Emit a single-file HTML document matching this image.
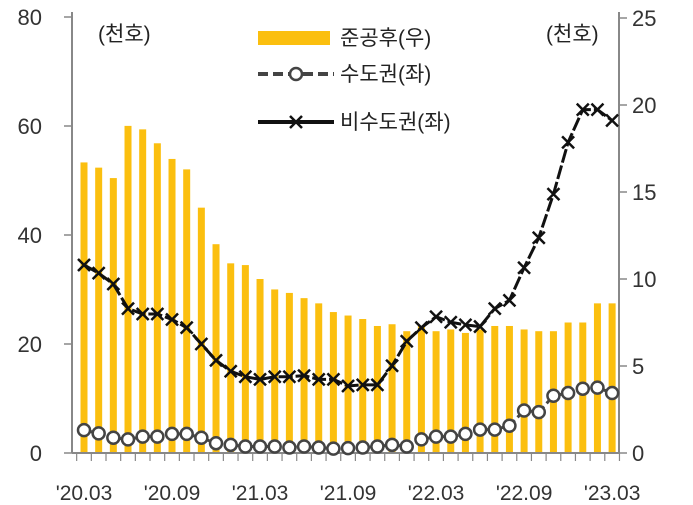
<!DOCTYPE html>
<html><head><meta charset="utf-8"><style>
body{margin:0;background:#fff}
svg{display:block;font-family:"Liberation Sans","Noto Sans CJK KR",sans-serif}
</style></head><body>
<svg id="c" width="693" height="505"></svg>
<script>
const labels=["'20.03","'20.09","'21.03","'21.09","'22.03","'22.09","'23.03"];
const completions=[16.7,16.4,15.8,18.8,18.6,17.8,16.9,16.3,14.1,12.0,10.9,10.8,10.0,9.4,9.2,8.9,8.6,8.1,7.9,7.7,7.3,7.4,7.0,7.3,7.0,7.1,6.9,7.1,7.3,7.3,7.1,7.0,7.0,7.5,7.5,8.6,8.6];
const nonCapital=[34.5,33,31,26.5,25.5,25.5,24.5,23,20,17,15,14,13.5,14,14,14.2,13.5,13.5,12.3,12.5,12.5,16,20.5,23,25,24,23.5,23.2,26.5,28,34,39.5,47.5,57,63,63,61];
const capital=[4.2,3.6,2.8,2.5,3,3,3.5,3.5,2.8,1.8,1.5,1.2,1.2,1.2,1,1.2,1,0.8,0.9,1,1.2,1.5,1.2,2.5,3,3,3.5,4.3,4.3,5,7.8,7.5,10.5,11,11.8,12,11];
const leftTicks=[0,20,40,60,80];
const rightTicks=[0,5,10,15,20,25];
const NS="http://www.w3.org/2000/svg",svg=document.getElementById('c');
const x0=84,step=14.67,yB=453;
const xs=i=>x0+i*step, yl=v=>yB-v*(453-17)/80, yr=v=>yB-v*(453-18)/25;
function el(t,a,txt){const e=document.createElementNS(NS,t);for(const k in a)e.setAttribute(k,a[k]);if(txt!==undefined)e.textContent=txt;svg.appendChild(e);return e;}
completions.forEach((v,i)=>{const b=el('rect',{x:xs(i)-3.5,y:yr(v),width:7,height:yB-yr(v),fill:'#fbbf0f'});

});
// axes
let a=el('line',{x1:72,y1:12,x2:72,y2:yB,stroke:'#888','stroke-width':2});

a=el('line',{x1:619,y1:12,x2:619,y2:yB,stroke:'#888','stroke-width':2});

a=el('line',{x1:72,y1:yB,x2:619,y2:yB,stroke:'#888','stroke-width':2});

leftTicks.forEach(v=>{el('line',{x1:64,y1:yl(v),x2:72,y2:yl(v),stroke:'#888','stroke-width':1.5});
const t=el('text',{x:42,y:yl(v)+8,'font-size':22,fill:'#333','text-anchor':'end'},v);

});
rightTicks.forEach(v=>{el('line',{x1:619,y1:yr(v),x2:627,y2:yr(v),stroke:'#888','stroke-width':1.5});
const t=el('text',{x:632,y:yr(v)+8,'font-size':22,fill:'#333'},v);

});
for(let i=0;i<=completions.length;i++)el('line',{x1:x0-step/2+i*step,y1:yB,x2:x0-step/2+i*step,y2:yB+8,stroke:'#888','stroke-width':1.2});
labels.forEach((l,k)=>{const t=el('text',{x:xs(k*6),y:500,'font-size':21,fill:'#333','text-anchor':'middle'},l);

});
// lines
let p=el('polyline',{points:nonCapital.map((v,i)=>xs(i)+','+yl(v)).join(' '),fill:'none',stroke:'#111','stroke-width':3,'stroke-dasharray':'14 3'});

nonCapital.forEach((v,i)=>{const x=xs(i),y=yl(v);const m=el('path',{d:`M${x-6},${y-6}L${x+6},${y+6}M${x-6},${y+6}L${x+6},${y-6}`,stroke:'#111','stroke-width':2.5});

});
p=el('polyline',{points:capital.map((v,i)=>xs(i)+','+yl(v)).join(' '),fill:'none',stroke:'#444','stroke-width':3,'stroke-dasharray':'8 4'});

capital.forEach((v,i)=>{const c=el('circle',{cx:xs(i),cy:yl(v),r:6,fill:'#fff',stroke:'#444','stroke-width':2.5});

});
</script>
<div style="position:absolute;left:0;top:0;width:693px;height:505px;font-family:'Liberation Sans','Noto Sans CJK KR',sans-serif;color:#222;font-size:21px">
<div style="position:absolute;left:98px;top:18px">(천호)</div>
<div style="position:absolute;left:546px;top:18px">(천호)</div>
<div>
<div style="position:absolute;left:258px;top:22px;height:30px">
<span style="position:absolute;left:0;top:9px;width:72px;height:14px;background:#fbbf0f"></span>
<span style="position:absolute;left:82px;top:0;white-space:nowrap">준공후(우)</span></div>
<div style="position:absolute;left:258px;top:58px;height:30px">
<svg width="76" height="24" style="position:absolute;left:0;top:4px"><line x1="0" y1="12" x2="76" y2="12" stroke="#444" stroke-width="4" stroke-dasharray="10 5"/><circle cx="38" cy="12" r="6" fill="#fff" stroke="#444" stroke-width="2.5"/></svg>
<span style="position:absolute;left:82px;top:0;white-space:nowrap">수도권(좌)</span></div>
<div style="position:absolute;left:258px;top:106px;height:30px">
<svg width="76" height="24" style="position:absolute;left:0;top:4px"><line x1="0" y1="12" x2="76" y2="12" stroke="#111" stroke-width="4"/><path d="M32,6L44,18M32,18L44,6" stroke="#111" stroke-width="2.5"/></svg>
<span style="position:absolute;left:82px;top:0;white-space:nowrap">비수도권(좌)</span></div>
</div></div>
</body></html>
